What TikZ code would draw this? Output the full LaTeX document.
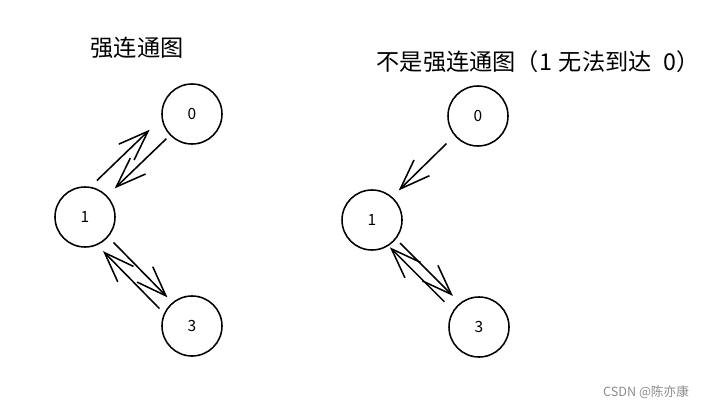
\documentclass[tikz,border=0pt]{standalone}
\usepackage{fontspec}
\setmainfont{Noto Sans CJK SC}
\usetikzlibrary{arrows.meta}
\begin{document}
\begin{tikzpicture}[x=0.025cm, y=-0.025cm,
    vertex/.style={circle, draw, line width=1.1pt, minimum size=1.5cm, inner sep=0pt, font=\fontsize{11}{13}\selectfont},
    edge/.style={line width=1.1pt, -{Straight Barb[length=0.75cm, width=0.55cm, line width=1.1pt]}},
    title/.style={font=\fontsize{16.5}{20}\selectfont}]
    \useasboundingbox (0, 0) rectangle (714, 407);
    \node [title] (titleA) at (137, 48) {强连通图};
    \node [vertex] (a0) at (192, 114) {0};
    \node [vertex] (a1) at (85, 217) {1};
    \node [vertex] (a3) at (192, 326) {3};
    \draw [edge, shorten <=0.075cm, shorten >=0.265cm, transform canvas={shift={(-12.5, -13)}}] (a1) -- (a0);
    \draw [edge, shorten <=0.12cm, shorten >=0.26cm] (a0) -- (a1);
    \draw [edge, shorten <=0.185cm, shorten >=0.17cm, transform canvas={shift={(1.8, -1.8)}}] (a1) -- (a3);
    \draw [edge, shorten <=0.11cm, shorten >=0.155cm, transform canvas={shift={(-7.9, 7.7)}}] (a3) -- (a1);
    \node [title] (titleB) at (538, 62) {不是强连通图（1\hspace{0.3em}无法到达\hspace{0.5em}0）};
    \node [vertex] (b0) at (478, 116) {0};
    \node [vertex] (b1) at (372, 220) {1};
    \node [vertex] (b3) at (479, 327) {3};
    \draw [edge, shorten <=0.275cm, shorten >=0.225cm, transform canvas={shift={(-1.7, -1.7)}}] (b0) -- (b1);
    \draw [edge, shorten <=0.135cm, shorten >=0.24cm, transform canvas={shift={(2.5, -2.5)}}] (b1) -- (b3);
    \draw [edge, shorten <=0.29cm, shorten >=0.03cm, transform canvas={shift={(-4.7, 4.7)}}] (b3) -- (b1);
    \node [text=black!45, font=\fontsize{9}{11}\selectfont] (mark) at (646, 392) {CSDN @陈亦康};
\end{tikzpicture}
\end{document}
